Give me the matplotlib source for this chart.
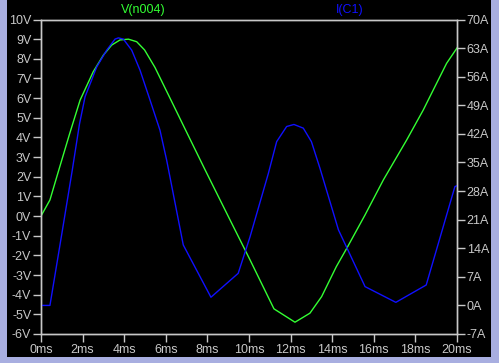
import matplotlib
matplotlib.use('Agg')
import matplotlib.pyplot as plt
import matplotlib.patches as mpatches

t_v = [0.0, 0.43, 0.83, 1.38, 1.88, 2.51, 3.0, 3.4, 3.8, 4.2, 4.6, 4.98,
       5.48, 6.35, 7.0, 7.88, 9.09, 10.05, 11.2, 12.21, 12.93, 13.49, 14.2,
       14.7, 15.58, 16.46, 17.58, 18.38, 18.78, 19.5, 20.0]
v_n004 = [0.0, 0.82, 2.25, 4.2, 5.9, 7.34, 8.19, 8.7, 8.96, 9.0, 8.87, 8.45,
          7.56, 5.68, 4.27, 2.37, -0.2, -2.23, -4.72, -5.4, -4.94, -4.1, -2.57,
          -1.64, 0.06, 1.84, 3.87, 5.4, 6.25, 7.77, 8.55]

t_i = [0.0, 0.43, 1.0, 1.5, 1.85, 2.12, 2.68, 3.16, 3.56, 3.72, 3.96, 4.36, 4.76,
       5.24, 5.72, 6.04, 6.84, 8.17, 9.48, 10.05, 10.93, 11.33, 11.81, 12.16,
       12.61, 13.0, 13.41, 14.3, 15.58, 17.06, 18.52, 19.9, 20.0]
i_c1 = [0.0, 0.0, 17.5, 33.0, 44.4, 51.1, 58.4, 62.5, 65.2, 65.5, 65.2, 62.5, 57.6,
        50.3, 42.9, 35.6, 14.8, 2.0, 7.85, 16.8, 32.3, 40.1, 43.8, 44.3,
        43.4, 40.1, 33.6, 18.5, 4.6, 0.75, 5.0, 29.1, 29.3]

v_ticks = list(range(-6, 11))
i_ticks = list(range(-7, 71, 7))
t_ticks = list(range(0, 21, 2))

# colours of the viewer
GREEN = '#33ff33'
BLUE = '#1010ff'
GRAY = '#c8c8c8'
FRAME = '#a8aee0'

plt.rcParams['font.family'] = 'Liberation Sans'

fig = plt.figure(figsize=(4.99, 3.63), dpi=100)
fig.patch.set_facecolor(FRAME)
# black window interior
fig.patches.append(mpatches.Rectangle((7 / 499, 6 / 363), 484 / 499, 357 / 363,
                                      transform=fig.transFigure, facecolor='black',
                                      edgecolor='none', zorder=-10))

ax = fig.add_axes([41 / 499, 1 - 334 / 363, 416 / 499, 314.5 / 363])
ax.set_facecolor('black')
ax.plot(t_v, v_n004, color=GREEN, lw=1.0)
ax.set_xlim(0, 20)
ax.set_ylim(-6, 10)
ax.set_xticks(t_ticks)
ax.set_xticklabels([f'{t}ms' for t in t_ticks])
ax.set_yticks(v_ticks)
ax.set_yticklabels([f'{v}V' for v in v_ticks])

ax2 = ax.twinx()
ax2.plot(t_i, i_c1, color=BLUE, lw=1.0)
ax2.set_ylim(-7, 70)
ax2.set_yticks(i_ticks)
ax2.set_yticklabels([f'{i}A' for i in i_ticks])

for a in (ax, ax2):
    for s in a.spines.values():
        s.set_color(GRAY)
        s.set_linewidth(1.0)
    a.tick_params(colors=GRAY, labelsize=9, length=6, width=1.0, pad=1)

ax.text(0.245, 1.012, 'V(n004)', color=GREEN, fontsize=9, ha='center', va='bottom',
        transform=ax.transAxes)
ax.text(0.743, 1.012, 'I(C1)', color=BLUE, fontsize=9, ha='center', va='bottom',
        transform=ax.transAxes)

fig.savefig('out.png', dpi=100, facecolor=fig.get_facecolor())
